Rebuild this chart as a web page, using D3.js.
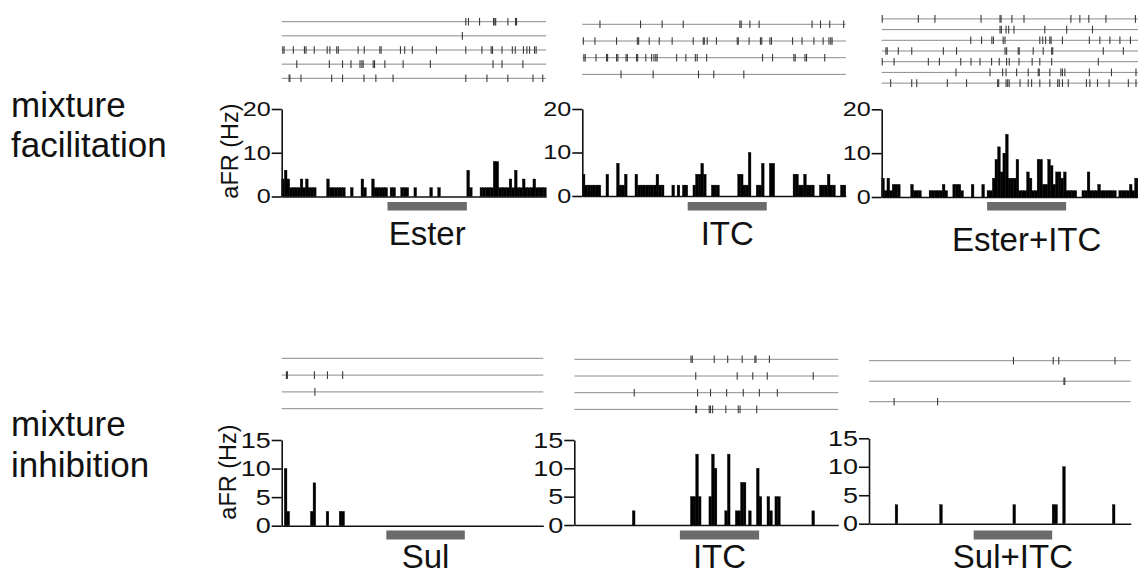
<!DOCTYPE html>
<html>
<head>
<meta charset="utf-8">
<script src="https://cdn.jsdelivr.net/npm/d3@7"></script>
<style>
	body { margin: 0; background: #fff; }
	svg { display: block; font-family: "Liberation Sans", Arial, Helvetica, sans-serif; }
</style>
</head>
<body>
<svg id="fig" width="1138" height="575"></svg>
<script>
// time window (s, relative to odor onset), PSTH bin and odor delivery window
var timeDomain = [ -4, 6 ],
	binWidth = 0.1,
	odorWindow = [ 0, 3 ];

var rowLabels = [ [ "mixture", "facilitation" ], [ "mixture", "inhibition" ] ],
	odorLabels = [ "Ester", "ITC", "Ester+ITC", "Sul", "ITC", "Sul+ITC" ],
	yLabel = "aFR (Hz)";

var topTicks = [ 0, 10, 20 ],
	bottomTicks = [ 0, 5, 10, 15 ];

/* PSTH, top row: one rate (Hz) per 0.1 s bin, starting at -4 s */
var psthEster = [
	4, 6, 4, 2, 2, 2, 2, 4, 2, 4,
	2, 2, 2, 0, 0, 0, 0, 4, 2, 2,
	2, 2, 2, 2, 0, 0, 2, 0, 0, 0,
	4, 2, 0, 0, 4, 2, 2, 2, 2, 2,
	0, 2, 2, 0, 0, 2, 2, 2, 0, 0,
	2, 0, 0, 0, 0, 0, 2, 0, 0, 2,
	0, 0, 0, 0, 0, 0, 0, 0, 0, 0,
	6, 2, 0, 0, 0, 2, 2, 2, 2, 2,
	8, 8, 2, 2, 2, 2, 4, 2, 6, 2,
	2, 4, 2, 2, 2, 4, 2, 2, 2, 2
];
var psthItcA = [
	5, 2.5, 2.5, 2.5, 2.5, 2.5, 2.5, 0, 0, 5,
	0, 0, 0, 7.5, 2.5, 2.5, 5, 0, 0, 0,
	5, 2.5, 2.5, 2.5, 2.5, 2.5, 2.5, 2.5, 5, 2.5,
	2.5, 0, 0, 0, 2.5, 0, 2.5, 0, 2.5, 2.5,
	0, 0, 2.5, 5, 5, 7.5, 5, 0, 0, 2.5,
	2.5, 2.5, 0, 0, 0, 0, 0, 0, 0, 5,
	5, 2.5, 2.5, 10, 0, 0, 2.5, 2.5, 7.5, 0,
	0, 7.5, 7.5, 0, 0, 0, 0, 0, 0, 0,
	5, 5, 2.5, 2.5, 5, 2.5, 2.5, 2.5, 0, 0,
	2.5, 2.5, 2.5, 5, 2.5, 2.5, 0, 0, 2.5, 2.5
];
var psthEsterItc = [
	4.29, 1.43, 4.29, 1.43, 2.86, 2.86, 2.86, 0, 0, 0,
	0, 2.86, 1.43, 1.43, 1.43, 0, 0, 0, 1.43, 1.43,
	1.43, 1.43, 1.43, 2.86, 1.43, 0, 0, 2.86, 2.86, 2.86,
	1.43, 0, 0, 0, 2.86, 0, 0, 0, 2.86, 0,
	1.43, 1.43, 4.29, 8.57, 11.43, 5.71, 10, 14.29, 4.29, 4.29,
	4.29, 8.57, 1.43, 1.43, 1.43, 5.71, 4.29, 1.43, 1.43, 8.57,
	8.57, 2.86, 2.86, 8.57, 7.14, 2.86, 5.71, 5.71, 4.29, 5.71,
	1.43, 1.43, 1.43, 1.43, 0, 0, 1.43, 1.43, 5.71, 1.43,
	1.43, 1.43, 2.86, 1.43, 1.43, 1.43, 1.43, 1.43, 1.43, 0,
	1.43, 1.43, 1.43, 1.43, 2.86, 1.43, 4.29, 4.29, 2.86, 1.43
];

/* PSTH, bottom row: [bin start (s), rate (Hz)] for non-empty bins */
var psthSul = [ [ -3.9, 10 ], [ -3.8, 2.5 ], [ -2.9, 2.5 ], [ -2.8, 7.5 ], [ -2.3, 2.5 ], [ -1.8, 2.5 ], [ -1.7, 2.5 ] ];
var psthItcB = [
	[ -1.8, 2.5 ], [ 0.4, 5 ], [ 0.5, 5 ], [ 0.6, 12.5 ], [ 0.7, 5 ], [ 1.1, 5 ], [ 1.2, 12.5 ], [ 1.3, 10 ],
	[ 1.7, 2.5 ], [ 1.8, 12.5 ], [ 2.1, 2.5 ], [ 2.2, 2.5 ], [ 2.3, 7.5 ], [ 2.4, 7.5 ], [ 2.6, 2.5 ],
	[ 2.9, 10 ], [ 3.0, 5 ], [ 3.3, 5 ], [ 3.4, 2.5 ], [ 3.6, 5 ], [ 3.7, 5 ], [ 5.0, 2.5 ]
];
var psthSulItc = [ [ -3.0, 3.33 ], [ -1.3, 3.33 ], [ 1.5, 3.33 ], [ 3.0, 3.33 ], [ 3.1, 3.33 ], [ 3.4, 10 ], [ 5.3, 3.33 ] ];

/* rasters: spike times (s) per trial */
var rasterEster = [
	[ 2.96, 3.06, 3.48, 4.01, 4.06, 4.09, 4.55, 4.84, 4.88 ],
	[ 2.83 ],
	[ -3.96, -3.91, -3.56, -3.14, -3.08, -2.77, -2.28, -2.18, -1.92, -1.86, -1.11, -0.88, -0.29, -0.24, 0.49, 0.65, 0.94, 1.85, 2.96, 3.57, 3.92, 3.97, 4.33, 4.72, 4.83, 5.14, 5.27, 5.37, 5.56, 5.62 ],
	[ -3.43, -2.20, -1.70, -1.38, -1.04, -0.97, -0.92, -0.54, -0.49, -0.10, 0.59, 1.62, 3.99, 4.33, 5.12 ],
	[ -3.72, -3.69, -3.27, -2.11, -1.70, -0.89, -0.44, 0.21, 2.96, 3.76, 4.55, 5.50, 5.87 ]
];
var rasterItcA = [
	[ -3.33, -1.79, -0.97, -0.17, 1.98, 2.03, 2.36, 2.71, 4.72, 5.04, 5.39, 5.92 ],
	[ -3.96, -3.52, -2.70, -1.91, -1.86, -1.46, -1.08, -0.59, 0.21, 0.59, 0.63, 0.74, 1.09, 1.88, 1.92, 2.33, 2.76, 2.81, 3.12, 3.18, 3.98, 4.34, 4.79, 5.14, 5.36, 5.43, 5.48 ],
	[ -3.94, -3.89, -3.48, -3.08, -3.04, -2.70, -2.65, -2.34, -2.29, -1.94, -1.90, -1.59, -1.37, -1.28, -1.21, -1.16, -0.42, -0.07, 0.29, 0.36, 0.72, 2.84, 3.22, 4.03, 4.08, 4.45, 4.51, 5.20 ],
	[ -2.53, -1.31, 0.41, 0.99, 2.13 ]
];
var rasterEsterItc = [
	[ -3.98, -2.61, -1.98, -0.23, 0.49, 0.53, 0.94, 1.40, 3.18, 3.52, 3.86, 4.51, 5.63 ],
	[ 0.49, 0.54, 0.72, 0.82, 1.02, 2.19, 3.02, 4.00 ],
	[ -0.62, -0.21, 0.18, 0.24, 0.61, 0.68, 2.00, 2.11, 2.22, 2.38, 2.43, 2.86, 3.88, 4.28, 4.66, 5.04, 5.44 ],
	[ -3.84, -3.79, -3.37, -2.86, -1.66, -1.16, 0.68, 0.74, 1.18, 1.22, 1.75, 2.13, 2.45, 2.49, 4.41, 5.17 ],
	[ -3.98, -3.53, -2.23, -1.81, -1.00, -0.61, -0.27, 0.17, 0.46, 0.74, 0.84, 1.21, 1.71, 2.00, 2.45, 4.22 ],
	[ -1.18, 0.11, 0.59, 0.72, 1.12, 1.56, 1.94, 1.98, 2.38, 2.80, 2.86, 2.95, 3.88, 4.72, 5.65 ],
	[ -3.66, -2.86, -2.67, -1.51, -0.78, 0.40, 0.44, 0.72, 0.78, 0.84, 1.25, 1.56, 1.69, 2.00, 2.38, 2.68, 2.74, 2.86, 3.08, 3.77, 3.90, 4.19, 4.63, 5.36, 5.65 ]
];
var rasterSul = [
	[],
	[ -3.82, -3.78, -2.75, -2.25, -1.67 ],
	[ -2.73 ],
	[]
];
var rasterItcB = [
	[ 0.42, 0.47, 1.30, 1.81, 2.36, 2.84, 2.88, 3.39 ],
	[ 0.60, 2.17, 2.76, 3.31, 5.05 ],
	[ -1.73, 0.67, 1.16, 1.77, 2.40, 3.01, 3.69 ],
	[ 0.60, 0.63, 1.11, 1.16, 1.24, 1.74, 2.21, 2.28, 2.91 ]
];
var rasterSulItc = [
	[ 1.52, 3.04, 3.25, 5.40 ],
	[ 3.45, 3.48 ],
	[ -3.04, -1.38 ]
];

// dense bin arrays -> [bin start, Hz] pairs
function toBins( values ) {
	return values.map( function ( v, i ) {
		return [ timeDomain[ 0 ] + i * binWidth, v ];
	} ).filter( function ( d ) {
		return d[ 1 ] > 0;
	} );
}

// row styles ("top" is taken by window.top, so use other names)
var rowTop = { yMax: 20, ticks: topTicks, tickFont: 20, digitW: 14, stimY: 202, stimH: 8.5 },
	rowBottom = { yMax: 15, ticks: bottomTicks, tickFont: 22, digitW: 15, stimY: 530.5, stimH: 9 };

// panel placement
var panels = [
	{ row: rowTop, x0: 281.7, w: 264.5, zeroY: 196.5, topY: 109, hist: toBins( psthEster ), raster: rasterEster, rY: 21.7, rStep: 14.15, label: odorLabels[ 0 ], labelY: 245, yLabelX: 238, yLabelY: 151 },
	{ row: rowTop, x0: 582.3, w: 263.5, zeroY: 196, topY: 109, hist: toBins( psthItcA ), raster: rasterItcA, rY: 24.3, rStep: 16.7, label: odorLabels[ 1 ], labelY: 245 },
	{ row: rowTop, x0: 881.7, w: 263.5, zeroY: 197, topY: 109.3, hist: toBins( psthEsterItc ), raster: rasterEsterItc, rY: 18.9, rStep: 10.7, label: odorLabels[ 2 ], labelY: 251 },
	{ row: rowBottom, x0: 281.7, w: 261.6, zeroY: 525.7, topY: 440, hist: psthSul, raster: rasterSul, rY: 358.3, rStep: 16.8, label: odorLabels[ 3 ], labelY: 567.5, yLabelX: 236, yLabelY: 472 },
	{ row: rowBottom, x0: 574.3, w: 264, zeroY: 525, topY: 440, hist: psthItcB, raster: rasterItcB, rY: 359.3, rStep: 16.7, label: odorLabels[ 4 ], labelY: 567.5 },
	{ row: rowBottom, x0: 869, w: 261.7, zeroY: 523.7, topY: 438.3, hist: psthSulItc, raster: rasterSulItc, rY: 360.7, rStep: 20.5, label: odorLabels[ 5 ], labelY: 567.5 }
];

var svg = d3.select( "#fig" );
svg.append( "rect" ).attr( "width", 1138 ).attr( "height", 575 ).attr( "fill", "#fff" );

// row labels
var rowY = [ [ 117, 157 ], [ 436, 477 ] ];
rowLabels.forEach( function ( lines, r ) {
	lines.forEach( function ( t, k ) {
		svg.append( "text" )
			.attr( "x", 11 )
			.attr( "y", rowY[ r ][ k ] )
			.attr( "font-size", 35 )
			.attr( "fill", "#111" )
			.text( t );
	} );
} );

panels.forEach( function ( p ) {
	var x = d3.scaleLinear().domain( timeDomain ).range( [ p.x0, p.x0 + p.w ] ),
		y = d3.scaleLinear().domain( [ 0, p.row.yMax ] ).range( [ p.zeroY, p.topY ] ),
		g = svg.append( "g" );

	/* raster */
	var trials = g.append( "g" ).selectAll( "g" )
		.data( p.raster )
		.join( "g" )
		.attr( "transform", function ( d, j ) {
			return "translate(0," + ( p.rY + j * p.rStep ) + ")";
		} );

	trials.append( "line" )
		.attr( "x1", x( timeDomain[ 0 ] ) )
		.attr( "x2", x( timeDomain[ 1 ] ) )
		.attr( "stroke", "#8a8a8a" )
		.attr( "stroke-width", 1 );

	trials.selectAll( ".spike" )
		.data( function ( d ) { return d; } )
		.join( "line" )
		.attr( "class", "spike" )
		.attr( "x1", function ( t ) { return x( t ); } )
		.attr( "x2", function ( t ) { return x( t ); } )
		.attr( "y1", -3.8 )
		.attr( "y2", 3.8 )
		.attr( "stroke", "#3a3a3a" )
		.attr( "stroke-width", 1.1 );

	/* histogram */
	g.append( "g" ).selectAll( "rect" )
		.data( p.hist )
		.join( "rect" )
		.attr( "x", function ( d ) { return x( d[ 0 ] ); } )
		.attr( "width", function ( d ) { return x( d[ 0 ] + binWidth ) - x( d[ 0 ] ); } )
		.attr( "y", function ( d ) { return y( d[ 1 ] ); } )
		.attr( "height", function ( d ) { return y( 0 ) - y( d[ 1 ] ); } )
		.attr( "fill", "#000" )
		.attr( "stroke", "#000" )
		.attr( "stroke-width", 0.4 );

	/* axes */
	var xAxis = d3.axisBottom( x ).tickValues( [] ).tickSizeOuter( 0 );
	g.append( "g" )
		.attr( "transform", "translate(0," + p.zeroY + ")" )
		.call( xAxis )
		.call( function ( a ) {
			a.select( ".domain" ).attr( "stroke", "#111" ).attr( "stroke-width", 1.6 );
		} );

	var yAxis = d3.axisLeft( y ).tickValues( p.row.ticks ).tickSizeInner( 10 ).tickSizeOuter( 0 ).tickPadding( 1 );
	g.append( "g" )
		.attr( "transform", "translate(" + p.x0 + ",0)" )
		.call( yAxis )
		.attr( "font-family", null )
		.attr( "font-size", p.row.tickFont )
		.call( function ( a ) {
			a.select( ".domain" ).attr( "stroke", "#111" ).attr( "stroke-width", 1.6 );
			a.selectAll( ".tick line" ).attr( "stroke", "#111" ).attr( "stroke-width", 1.6 );
			a.selectAll( ".tick text" )
				.attr( "fill", "#111" )
				.attr( "textLength", function ( d ) { return String( d ).length * p.row.digitW; } )
				.attr( "lengthAdjust", "spacingAndGlyphs" );
		} );

	/* odor bar + label */
	g.append( "rect" )
		.attr( "x", x( odorWindow[ 0 ] ) )
		.attr( "width", x( odorWindow[ 1 ] ) - x( odorWindow[ 0 ] ) )
		.attr( "y", p.row.stimY )
		.attr( "height", p.row.stimH )
		.attr( "fill", "#6b6b6b" );

	g.append( "text" )
		.attr( "x", ( x( odorWindow[ 0 ] ) + x( odorWindow[ 1 ] ) ) / 2 )
		.attr( "y", p.labelY )
		.attr( "text-anchor", "middle" )
		.attr( "font-size", 33 )
		.attr( "fill", "#111" )
		.text( p.label );

	if ( p.yLabelX ) {
		g.append( "text" )
			.attr( "transform", "translate(" + p.yLabelX + "," + p.yLabelY + ") rotate(-90)" )
			.attr( "text-anchor", "middle" )
			.attr( "font-size", 23.5 )
			.attr( "fill", "#111" )
			.text( yLabel );
	}
} );
</script>
</body>
</html>
